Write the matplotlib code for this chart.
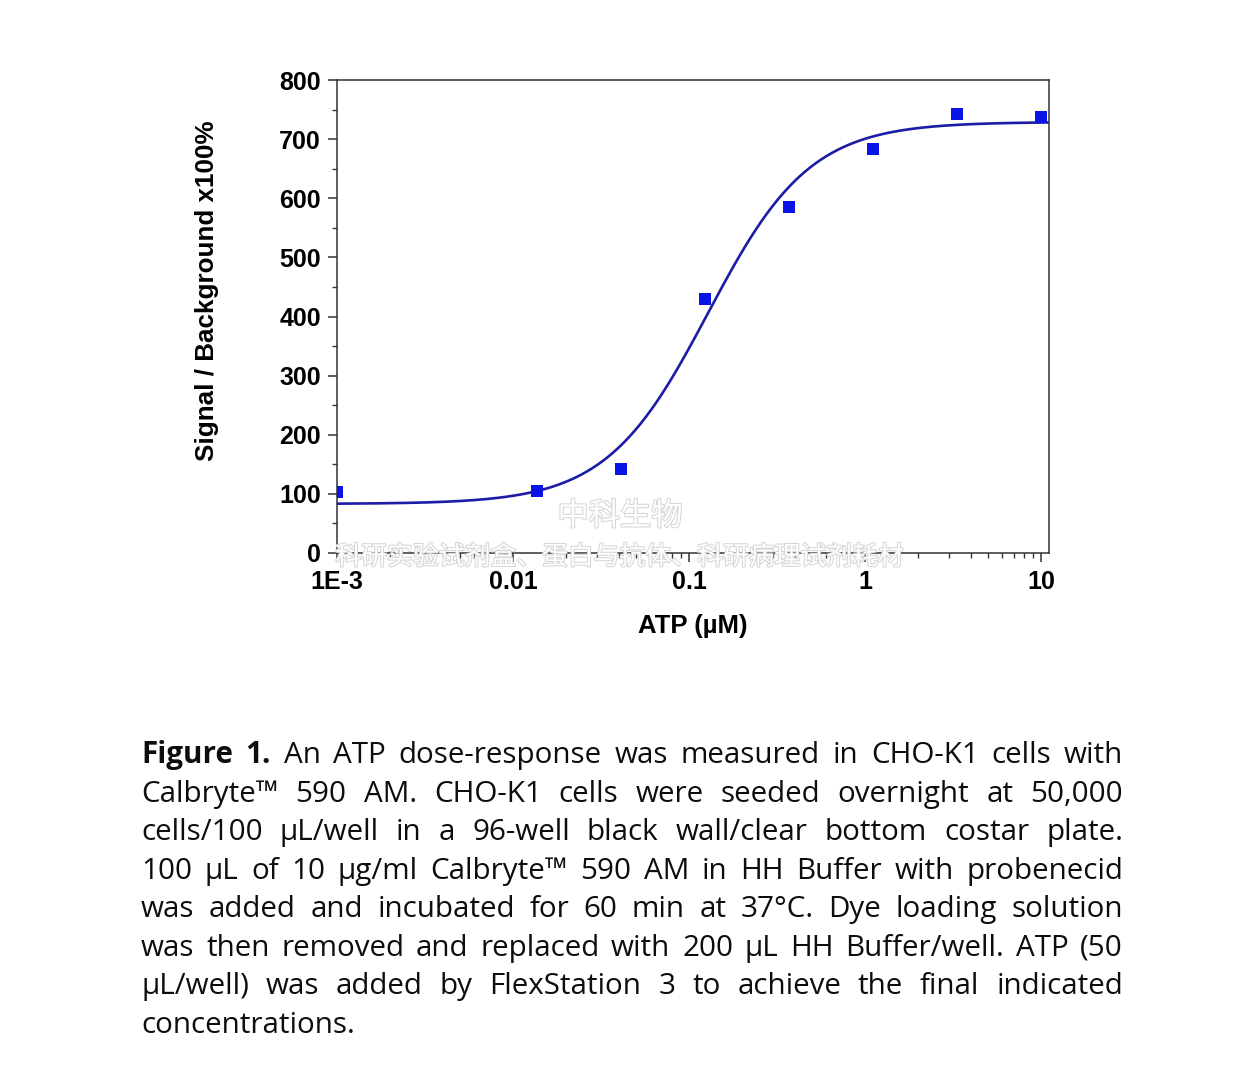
import matplotlib
matplotlib.use("Agg")
import matplotlib.pyplot as plt
import matplotlib.patheffects as pe
import numpy as np
from matplotlib.ticker import LogLocator, MultipleLocator, NullFormatter

# measured points (ATP concentration in uM, signal/background x100%)
atp_um = [0.001, 0.0137, 0.0412, 0.123, 0.37, 1.11, 3.33, 10.0]
signal = [103, 105, 142, 430, 585, 683, 743, 738]

# 4-parameter logistic fit
fit_bottom = 83.0
fit_top = 729.0
fit_ec50 = 0.128
fit_hill = 1.5

x_ticks = [0.001, 0.01, 0.1, 1, 10]
x_tick_labels = ["1E-3", "0.01", "0.1", "1", "10"]
y_ticks = [0, 100, 200, 300, 400, 500, 600, 700, 800]

caption_lines = [
    [("Figure", "bold"), ("1.", "bold"), "An", "ATP", "dose-response", "was", "measured", "in",
     "CHO-K1", "cells", "with"],
    "Calbryte™ 590 AM. CHO-K1 cells were seeded overnight at 50,000".split(),
    "cells/100 µL/well in a 96-well black wall/clear bottom costar plate.".split(),
    "100 µL of 10 µg/ml Calbryte™ 590 AM in HH Buffer with probenecid".split(),
    "was added and incubated for 60 min at 37°C. Dye loading solution".split(),
    "was then removed and replaced with 200 µL HH Buffer/well. ATP (50".split(),
    "µL/well) was added by FlexStation 3 to achieve the final indicated".split(),
    "concentrations.".split(),
]

W, H = 1240, 1068
fig = plt.figure(figsize=(W / 100, H / 100), dpi=100)
fig.patch.set_facecolor("white")

ax_font = "Liberation Sans"
ax = fig.add_axes([337 / W, 1 - 553 / H, 712 / W, 473 / H])

xs = np.logspace(-3, np.log10(11.1), 400)
ys = fit_bottom + (fit_top - fit_bottom) / (1 + (fit_ec50 / xs) ** fit_hill)
ax.plot(xs, ys, color="#1c1ca6", lw=1.9, zorder=2)
ax.plot(atp_um, signal, ls="none", marker="s", ms=9.3, color="#0a14e6",
        markeredgewidth=0, zorder=3)

ax.set_xscale("log")
ax.set_xlim(0.001, 11.04)
ax.set_ylim(0, 800)
ax.set_xticks(x_ticks)
ax.set_xticklabels(x_tick_labels)
ax.xaxis.set_minor_locator(LogLocator(base=10, subs=np.arange(2, 10)))
ax.xaxis.set_minor_formatter(NullFormatter())
ax.set_yticks(y_ticks)
ax.yaxis.set_minor_locator(MultipleLocator(50))

for sp in ax.spines.values():
    sp.set_linewidth(1.1)
    sp.set_color("#333333")
ax.tick_params(which="major", length=6.5, width=1.1, color="#333333", pad=5)
ax.tick_params(which="minor", length=3.5, width=1.0, color="#333333")
ax.tick_params(axis="x", which="major", pad=6)
for lab in ax.get_xticklabels() + ax.get_yticklabels():
    lab.set_fontfamily(ax_font)
    lab.set_fontweight("bold")
    lab.set_fontsize(18)

ax.set_xlabel("ATP (µM)", fontfamily=ax_font, fontweight="bold", fontsize=18.5, labelpad=14)
fig.text(207 / W, 1 - 291 / H, "Signal / Background x100%", rotation=90,
         ha="center", va="center", fontfamily=ax_font, fontweight="bold", fontsize=18.7)

# watermark
wm_effect = [pe.withStroke(linewidth=1.5, foreground="#d6d6d6")]
fig.text(620 / W, 1 - 516 / H, "中科生物", ha="center", va="center", color="white",
         fontfamily="Noto Sans CJK SC", fontsize=22.5, path_effects=wm_effect, zorder=10)
fig.text(620 / W, 1 - 557 / H, "科研实验试剂盒、蛋白与抗体、科研病理试剂耗材",
         ha="center", va="center", color="white", fontfamily="Noto Sans CJK SC",
         fontsize=18.6, path_effects=wm_effect, zorder=10)

# justified caption
renderer = fig.canvas.get_renderer()
left, right = 141, 1123
base0, step = 763, 38.57
for i, line in enumerate(caption_lines):
    y = 1 - (base0 + i * step) / H
    items = []
    for w in line:
        word, weight = (w if isinstance(w, tuple) else (w, "normal"))
        t = fig.text(0, y, word, fontfamily="Open Sans", fontweight=weight,
                     fontsize=21.3, va="baseline", ha="left", color="#0d0d0d")
        items.append(t)
    widths = [t.get_window_extent(renderer).width for t in items]
    if i < len(caption_lines) - 1:
        gap = (right - left - sum(widths)) / (len(items) - 1)
    else:
        gap = 7.0
    x = left
    for t, wd in zip(items, widths):
        t.set_x(x / W)
        x += wd + gap

fig.savefig("out.png", dpi=100)
